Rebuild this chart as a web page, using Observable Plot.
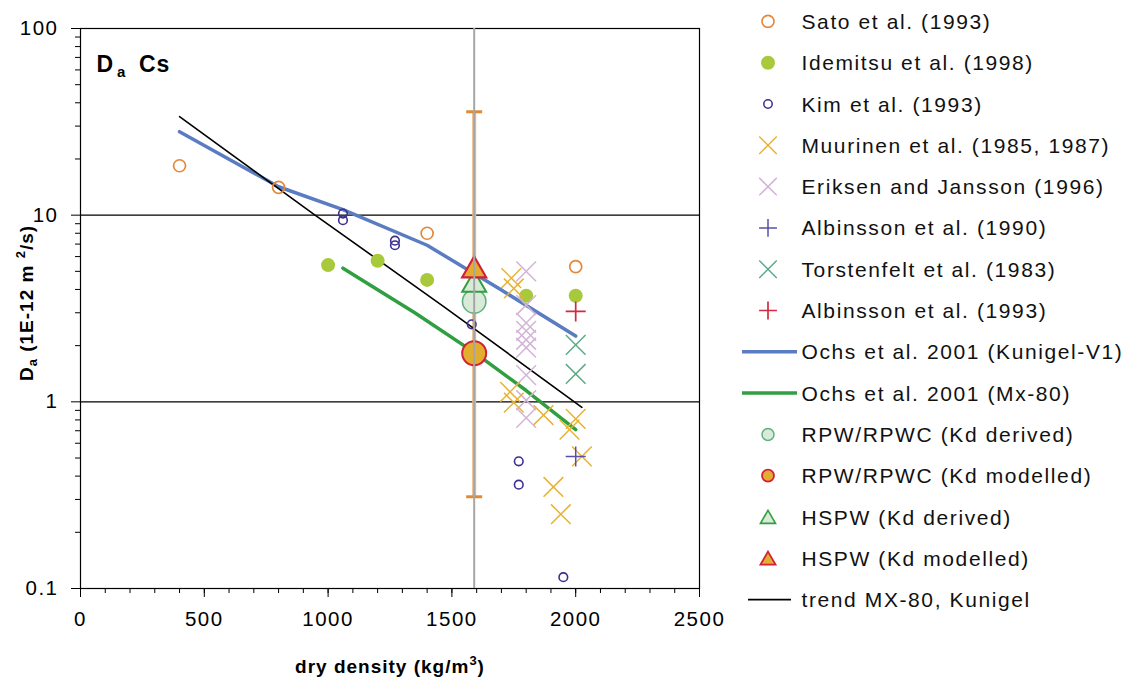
<!DOCTYPE html>
<html><head><meta charset="utf-8">
<script src="https://cdn.jsdelivr.net/npm/d3@7"></script>
<script src="https://cdn.jsdelivr.net/npm/@observablehq/plot@0.6"></script>
<style>
html,body{margin:0;padding:0;background:#fff;}
#chart{width:1141px;height:678px;overflow:hidden;}
</style></head><body><div id="chart"></div>
<script>
// ---------- data ----------
const satoX = [400, 800, 1400, 2000];
const satoY = [18.4, 14.1, 8.0, 5.3];
const idemitsuX = [1000, 1200, 1400, 1800, 2000];
const idemitsuY = [5.4, 5.7, 4.5, 3.7, 3.7];
const kimX = [1060, 1060, 1270, 1270, 1580, 1770, 1770, 1950];
const kimY = [10.2, 9.4, 7.3, 6.9, 2.6, 0.48, 0.36, 0.115];
const muurinenX = [1740, 1750, 1735, 1750, 1870, 2000, 1975, 2025, 1910, 1940];
const muurinenY = [4.6, 4.05, 1.13, 0.99, 0.85, 0.81, 0.71, 0.51, 0.35, 0.25];
const eriksenX = [1800, 1800, 1800, 1800, 1800, 1800, 1800, 1800, 1800];
const eriksenY = [5.0, 3.3, 2.65, 2.4, 2.15, 1.95, 1.39, 1.02, 0.82];
const albinsson90X = [2000];
const albinsson90Y = [0.51];
const torstenfeltX = [2000, 2000];
const torstenfeltY = [2.02, 1.41];
const albinsson93X = [2000];
const albinsson93Y = [3.05];
const ochsKunigelX = [400, 800, 1060, 1400, 1700, 2000];
const ochsKunigelY = [28, 14.2, 10.7, 6.9, 3.97, 2.25];
const ochsMx80X = [1060, 1350, 1590, 1800, 2000];
const ochsMx80Y = [5.2, 3.0, 1.84, 1.15, 0.71];
const trendX = [400, 943, 1467, 2025];
const trendY = [33.7, 10.1, 3.24, 0.935];
const rpwDensity = [1590];
const rpwDerived = [3.45];
const rpwModelled = [1.82];
const hspwDerived = [4.23];
const hspwModelled = [5.06];
const rangeLow = [0.31];
const rangeHigh = [35.8];

const xTicks = [0, 500, 1000, 1500, 2000, 2500];
const xMinorTicks = d3.range(0, 2501, 100);
const yTicks = [0.1, 1, 10, 100];
const yTickLabels = {0.1: "0.1", 1: "1", 10: "10", 100: "100"};
const yMinorTicks = [0.2,0.3,0.4,0.5,0.6,0.7,0.8,0.9,2,3,4,5,6,7,8,9,20,30,40,50,60,70,80,90];
const gridY = [1, 10];

const legendLabels = [
  "Sato et al. (1993)", "Idemitsu et al. (1998)", "Kim et al. (1993)",
  "Muurinen et al. (1985, 1987)", "Eriksen and Jansson (1996)", "Albinsson et al. (1990)",
  "Torstenfelt et al. (1983)", "Albinsson et al. (1993)", "Ochs et al. 2001 (Kunigel-V1)",
  "Ochs et al. 2001 (Mx-80)", "RPW/RPWC (Kd derived)", "RPW/RPWC (Kd modelled)",
  "HSPW (Kd derived)", "HSPW (Kd modelled)", "trend MX-80, Kunigel"
];

// ---------- colours ----------
const C = {
  sato: "#e2893a", idemitsu: "#a8c93c", kim: "#3b2f8f", muurinen: "#e8b233",
  eriksen: "#d3b4d7", alb90: "#5650a6", torst: "#5daa87", alb93: "#d22a3e",
  blue: "#5a7cc2", green: "#2f9f3f", lightFill: "#d9ead9", lightStroke: "#62b07f",
  gold: "#e3ad2f", red: "#d3203a", tan: "#e9b887", cap: "#e08a38", gray: "#a6a6a6"
};

const zip = (xs, ys) => xs.map((x, i) => ({x, y: ys[i]}));
const hbar = {draw(ctx, size) { const r = Math.sqrt(size / Math.PI); ctx.moveTo(-r, 0); ctx.lineTo(r, 0); }};
const errorBar = rpwDensity.map((x, i) => ({x, lo: rangeLow[i], hi: rangeHigh[i]}));

const plot = Plot.plot({
  width: 1141, height: 678,
  marginLeft: 80, marginRight: 442, marginTop: 28, marginBottom: 90,
  style: {fontFamily: "'Liberation Sans', Arial, sans-serif", background: "#fff", color: "#000", letterSpacing: "1.5px"},
  x: {domain: [0, 2500], label: null},
  y: {type: "log", domain: [0.1, 100], label: null},
  marks: [
    Plot.ruleY(gridY, {stroke: "#000", strokeWidth: 1.2}),
    Plot.frame({stroke: "#000", strokeWidth: 1.2}),
    Plot.axisX({ticks: xMinorTicks, tickSize: 5, tickFormat: () => "", stroke: "#000"}),
    Plot.axisX({ticks: xTicks, tickSize: 9, tickPadding: 14, fontSize: 20.5, tickFormat: d => String(d), stroke: "#000"}),
    Plot.axisY({ticks: yMinorTicks, tickSize: 5, tickFormat: () => "", stroke: "#000"}),
    Plot.axisY({ticks: yTicks, tickSize: 9, tickPadding: 13, fontSize: 20.5, tickFormat: d => yTickLabels[d] ?? String(d), stroke: "#000"}),
    // error bar
    Plot.ruleX(errorBar, {x: "x", y1: "lo", y2: "hi", stroke: C.tan, strokeWidth: 4}),
    Plot.dot(errorBar, {x: "x", y: "lo", symbol: hbar, r: 8, stroke: C.cap, strokeWidth: 3}),
    Plot.dot(errorBar, {x: "x", y: "hi", symbol: hbar, r: 8, stroke: C.cap, strokeWidth: 3}),
    // lines
    Plot.line(zip(ochsKunigelX, ochsKunigelY), {x: "x", y: "y", stroke: C.blue, strokeWidth: 3.5}),
    Plot.line(zip(ochsMx80X, ochsMx80Y), {x: "x", y: "y", stroke: C.green, strokeWidth: 3.5}),
    Plot.line(zip(trendX, trendY), {x: "x", y: "y", stroke: "#000", strokeWidth: 1.6}),
    // data points
    Plot.dot(zip(satoX, satoY), {x: "x", y: "y", r: 6, stroke: C.sato, strokeWidth: 1.7, fill: "none"}),
    Plot.dot(zip(idemitsuX, idemitsuY), {x: "x", y: "y", r: 7, fill: C.idemitsu, stroke: "none"}),
    Plot.dot(zip(kimX, kimY), {x: "x", y: "y", r: 4.3, stroke: C.kim, strokeWidth: 1.6, fill: "none"}),
    Plot.dot(zip(eriksenX, eriksenY), {x: "x", y: "y", symbol: "times", r: 9, stroke: C.eriksen, strokeWidth: 1.5}),
    Plot.dot(zip(muurinenX, muurinenY), {x: "x", y: "y", symbol: "times", r: 9, stroke: C.muurinen, strokeWidth: 1.5}),
    Plot.dot(zip(albinsson90X, albinsson90Y), {x: "x", y: "y", symbol: "plus", r: 6.5, stroke: C.alb90, strokeWidth: 1.5}),
    Plot.dot(zip(torstenfeltX, torstenfeltY), {x: "x", y: "y", symbol: "times", r: 9, stroke: C.torst, strokeWidth: 1.5}),
    Plot.dot(zip(albinsson93X, albinsson93Y), {x: "x", y: "y", symbol: "plus", r: 6.5, stroke: C.alb93, strokeWidth: 1.7}),
    // RPW / HSPW
    Plot.dot(zip(rpwDensity, rpwDerived), {x: "x", y: "y", r: 11.7, fill: C.lightFill, stroke: C.lightStroke, strokeWidth: 1.6}),
    Plot.dot(zip(rpwDensity, rpwModelled), {x: "x", y: "y", r: 12, fill: C.gold, stroke: C.red, strokeWidth: 2}),
    Plot.dot(zip(rpwDensity, hspwDerived), {x: "x", y: "y", symbol: "triangle", r: 8.9, fill: C.lightFill, stroke: C.green, strokeWidth: 2}),
    Plot.dot(zip(rpwDensity, hspwModelled), {x: "x", y: "y", symbol: "triangle", r: 8.9, fill: C.gold, stroke: C.red, strokeWidth: 2.2}),
    // reference line
    Plot.ruleX(rpwDensity, {stroke: C.gray, strokeWidth: 2})
  ]
});

document.getElementById("chart").appendChild(plot);
const svg = d3.select(plot);

// titles
const yt = svg.append("text").attr("transform", "translate(33,303) rotate(-90)")
  .attr("text-anchor", "middle").attr("font-weight", "bold").attr("font-size", 19)
  .attr("letter-spacing", "1px").attr("fill", "#000");
yt.append("tspan").text("D");
yt.append("tspan").attr("font-size", 13).attr("dy", 4).text("a");
yt.append("tspan").attr("dy", -4).text(" (1E-12 m ");
yt.append("tspan").attr("font-size", 13).attr("dy", -8).text("2");
yt.append("tspan").attr("dy", 8).text("/s)");

const xt = svg.append("text").attr("x", 390).attr("y", 673)
  .attr("text-anchor", "middle").attr("font-weight", "bold").attr("font-size", 19)
  .attr("letter-spacing", "1px").attr("fill", "#000");
xt.append("tspan").text("dry density (kg/m");
xt.append("tspan").attr("font-size", 13).attr("dy", -8).text("3");
xt.append("tspan").attr("dy", 8).text(")");

const da = svg.append("text").attr("y", 72).attr("font-weight", "bold")
  .attr("text-anchor", "start").attr("font-size", 23).attr("letter-spacing", "1px").attr("fill", "#000");
da.append("tspan").attr("x", 96.5).text("D");
da.append("tspan").attr("x", 117).attr("font-size", 15).attr("dy", 5).text("a");
da.append("tspan").attr("x", 139).attr("dy", -5).text("Cs");

// legend
const legendSpec = [
  {t: "sym", type: d3.symbolCircle, r: 6, fill: "none", stroke: C.sato, sw: 1.6},
  {t: "sym", type: d3.symbolCircle, r: 7, fill: C.idemitsu, stroke: "none", sw: 0},
  {t: "sym", type: d3.symbolCircle, r: 4.2, fill: "none", stroke: C.kim, sw: 1.5},
  {t: "sym", type: d3.symbolTimes, r: 8, fill: "none", stroke: C.muurinen, sw: 1.5},
  {t: "sym", type: d3.symbolTimes, r: 8, fill: "none", stroke: C.eriksen, sw: 1.5},
  {t: "sym", type: d3.symbolPlus, r: 5.8, fill: "none", stroke: C.alb90, sw: 1.5},
  {t: "sym", type: d3.symbolTimes, r: 8, fill: "none", stroke: C.torst, sw: 1.5},
  {t: "sym", type: d3.symbolPlus, r: 5.8, fill: "none", stroke: C.alb93, sw: 1.7},
  {t: "line", x1: 742, x2: 797, stroke: C.blue, sw: 3.5},
  {t: "line", x1: 742, x2: 797, stroke: C.green, sw: 3.5},
  {t: "sym", type: d3.symbolCircle, r: 6, fill: C.lightFill, stroke: C.lightStroke, sw: 1.5},
  {t: "sym", type: d3.symbolCircle, r: 6, fill: C.gold, stroke: C.red, sw: 1.8},
  {t: "sym", type: d3.symbolTriangle, r: 5.6, fill: C.lightFill, stroke: C.green, sw: 1.6, dy: 2},
  {t: "sym", type: d3.symbolTriangle, r: 5.6, fill: C.gold, stroke: C.red, sw: 1.8, dy: 2},
  {t: "line", x1: 748, x2: 791, stroke: "#000", sw: 1.8}
];
const lg = svg.append("g").attr("text-anchor", "start");
legendLabels.forEach((label, i) => {
  const cy = 21.4 + i * 41.3;
  const s = legendSpec[i];
  if (s.t === "sym") {
    lg.append("path").attr("transform", `translate(768,${cy + (s.dy || 0)})`)
      .attr("d", d3.symbol().type(s.type).size(Math.PI * s.r * s.r)())
      .attr("fill", s.fill).attr("stroke", s.stroke).attr("stroke-width", s.sw);
  } else {
    lg.append("line").attr("x1", s.x1).attr("x2", s.x2).attr("y1", cy).attr("y2", cy)
      .attr("stroke", s.stroke).attr("stroke-width", s.sw);
  }
  lg.append("text").attr("x", 801.5).attr("y", cy + 7.5).attr("font-size", 21)
    .attr("text-anchor", "start")
    .attr("letter-spacing", "1.6px").attr("fill", "#111").text(label);
});
</script>
</body></html>
